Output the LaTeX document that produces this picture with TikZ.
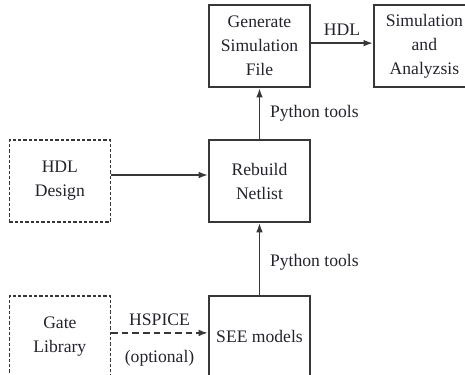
\documentclass[tikz,border=0pt]{standalone}
\usepackage{fontspec}
\setmainfont{Liberation Serif}
\usetikzlibrary{positioning,arrows.meta}
\definecolor{linegray}{RGB}{55,55,55}
\definecolor{textdark}{RGB}{35,35,45}

\begin{document}
\begin{tikzpicture}[node distance=38.25pt, every node/.style={font=\fontsize{13.2}{18}\selectfont, text=textdark},
  block/.style={draw=linegray, line width=1.4pt, minimum width=75.75pt, minimum height=61.5pt, align=center, inner sep=0pt},
  inputbox/.style={block, line width=1pt, dash pattern=on 2.5pt off 1.5pt},
  flow/.style={-{Latex[length=7pt,width=5pt]}, line width=1.3pt, color=linegray}]
  \useasboundingbox (-194.6pt,135.75pt) rectangle (154.1pt,-144.75pt);
  \clip (-194.6pt,135.75pt) rectangle (154.1pt,-144.75pt);
  \node[block] (rn) {Rebuild\\Netlist};
  \node[block, above=of rn] (gs) {Generate\\Simulation\\File};
  \node[block, right=46.5pt of gs] (sa) {Simulation\\and\\Analyzsis};
  \node[inputbox, left=72.75pt of rn] (hd) {HDL\\Design};
  \node[block, below=54pt of rn] (se) {SEE models};
  \node[inputbox, left=72.75pt of se] (gl) {Gate\\Library};
  % connectors
  \draw[flow] (rn) -- (gs) node[midway, right, xshift=4pt] {Python tools};
  \draw[flow] (se) -- (rn) node[pos=0.45, right, xshift=4pt] {Python tools};
  \draw[flow] ([yshift=2.25pt]gs.east) -- ([yshift=2.25pt]sa.west) node[midway, above, yshift=1.5pt] {HDL};
  \draw[flow] ([yshift=4.5pt]hd.east) -- ([yshift=4.5pt]rn.west);
  \draw[flow, line width=1.5pt, dash pattern=on 5pt off 3pt] ([yshift=3pt]gl.east) -- ([yshift=3pt]se.west)
    node[midway, above, yshift=1.5pt] {HSPICE} node[midway, below, yshift=-9pt] {(optional)};
\end{tikzpicture}
\end{document}
